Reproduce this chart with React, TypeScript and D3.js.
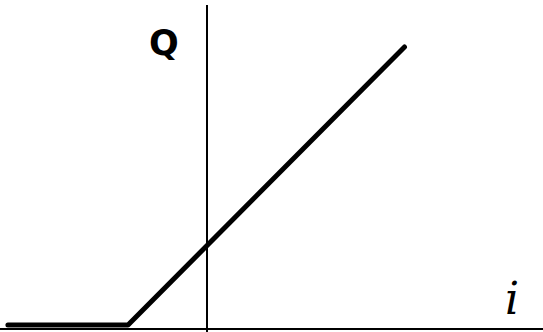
import React from "react";
import * as d3 from "d3";

const iValues = [-2.52, -1, 2.5];
const qValues = [0, 0, 3.52];
const axisLabels = ["Q", "i"];

export default function App() {
  const W = 543, H = 332;
  const x = d3.scaleLinear().domain([0, 1]).range([207, 286]);
  const y = d3.scaleLinear().domain([0, 1]).range([325, 246]);
  const pts: [number, number][] = iValues.map((v, k) => [x(v), y(qValues[k])]);
  const line = d3.line<[number, number]>().x(d => d[0]).y(d => d[1]);
  return (
    <svg width={W} height={H} style={{ position: "fixed", left: 0, top: 0, background: "#fff" }}>
      <rect width={W} height={H} fill="#fff" />
      <line x1={0} x2={W} y1={329} y2={329} stroke="#000" strokeWidth={2} />
      <line x1={x(0)} x2={x(0)} y1={5} y2={H} stroke="#000" strokeWidth={2} />
      <path d={line(pts) || ""} fill="none" stroke="#000" strokeWidth={5} strokeLinecap="round" strokeLinejoin="round" />
      <text x={164} y={55} textAnchor="middle" fontFamily="DejaVu Sans" fontWeight="bold" fontSize={35} fill="#000">{axisLabels[0]}</text>
      <text x={512} y={314} textAnchor="middle" fontFamily="DejaVu Serif" fontStyle="italic" fontSize={44} fill="#000">{axisLabels[1]}</text>
    </svg>
  );
}
